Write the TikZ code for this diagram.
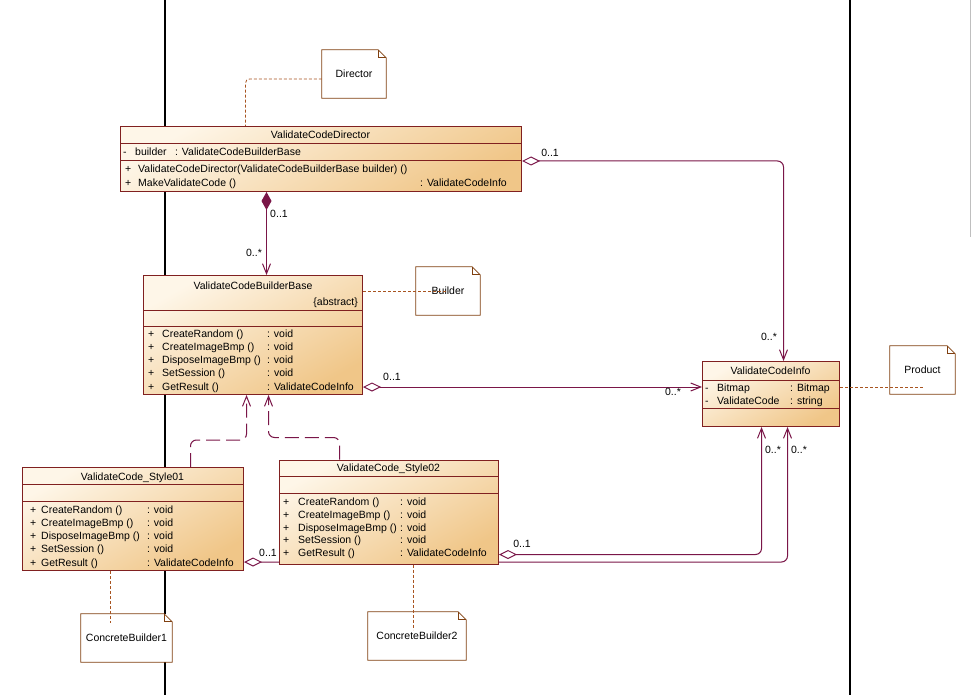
\documentclass[tikz,border=0pt]{standalone}
\usepackage{fontspec}
\setmainfont{Liberation Sans}
\usetikzlibrary{arrows.meta}
\pgfdeclarelayer{background}
\pgfsetlayers{background,main}

\definecolor{umlline}{RGB}{128,32,32}
\definecolor{umlconn}{RGB}{122,22,72}
\definecolor{umltop}{RGB}{254,246,232}
\definecolor{umlbot}{RGB}{240,198,136}
\definecolor{notedraw}{RGB}{128,64,16}
\definecolor{notelink}{RGB}{168,84,32}

\newcommand{\umlfont}{\fontsize{10.5}{12}\selectfont}
\newcommand{\dogear}[1]{%
  \draw[notedraw, line width=.8pt] (#1.north west) -- ([xshift=-8pt]#1.north east) -- ([yshift=-8pt]#1.north east) -- (#1.south east) -- (#1.south west) -- cycle;
  \draw[notedraw, line width=.8pt] ([xshift=-8pt]#1.north east) |- ([yshift=-8pt]#1.north east);}

\tikzset{
  classbox/.style={draw=umlline, line width=1pt, top color=umltop, bottom color=umlbot, shading angle=30, anchor=north west, inner sep=0pt},
  umlsep/.style={draw=umlline, line width=1pt},
  notebox/.style={fill=white, inner sep=0pt},
  txt/.style={anchor=base west, inner sep=0pt},
  ttl/.style={anchor=base, inner sep=0pt},
  lbl/.style={inner sep=0pt},
  comp/.style={draw=umlconn, line width=1pt, arrows={Diamond[length=18pt,width=10pt]-Straight Barb[length=10pt,width=8pt]}},
  agg/.style={draw=umlconn, line width=1pt, rounded corners=6pt, arrows={Diamond[fill=white,length=18pt,width=9pt]-Straight Barb[length=10pt,width=8pt]}},
  dep/.style={draw=umlconn, line width=1pt, rounded corners=6pt, dash pattern=on 14pt off 6pt, arrows={-Straight Barb[length=10pt,width=8pt]}},
  notelnk/.style={draw=notelink, line width=.8pt, dash pattern=on 3pt off 2pt}
}

\begin{document}
\begin{tikzpicture}[x=1pt, y=-1pt, font=\umlfont]

\useasboundingbox (0,0) rectangle (971,695);

% classes
\node[classbox, minimum width=401pt, minimum height=65pt] (dir) at (120,126) {};
\draw[umlsep] ([yshift=-18pt]dir.north west) -- ([yshift=-18pt]dir.north east);
\draw[umlsep] ([yshift=-35pt]dir.north west) -- ([yshift=-35pt]dir.north east);
\node[ttl] (dirT) at (320.5,139) {ValidateCodeDirector};
\node[txt] (dirA1) at (123,156) {\makebox[12pt][l]{-}\makebox[40pt][l]{builder}: ValidateCodeBuilderBase};
\node[txt] (dirO1) at (125,172) {\makebox[13pt][l]{+}ValidateCodeDirector(ValidateCodeBuilderBase builder) ()};
\node[txt] (dirO2) at (125,186) {\makebox[13pt][l]{+}\makebox[282pt][l]{MakeValidateCode ()}: ValidateCodeInfo};

\node[classbox, minimum width=219pt, minimum height=119pt] (bld) at (143,275) {};
\draw[umlsep] ([yshift=-35pt]bld.north west) -- ([yshift=-35pt]bld.north east);
\draw[umlsep] ([yshift=-51pt]bld.north west) -- ([yshift=-51pt]bld.north east);
\node[ttl] (bldT) at (253,289) {ValidateCodeBuilderBase};
\node[anchor=base east, inner sep=0pt] (bldS) at (358,305) {\{abstract\}};
\foreach \op/\ty [count=\i] in {CreateRandom ()/void, CreateImageBmp ()/void, DisposeImageBmp ()/void, SetSession ()/void, GetResult ()/ValidateCodeInfo}
  \node[txt] (bldO\i) at (148,{337+13.25*(\i-1)}) {\makebox[14pt][l]{+}\makebox[105pt][l]{\op}: \ty};

\node[classbox, minimum width=137pt, minimum height=65pt] (info) at (702,361) {};
\draw[umlsep] ([yshift=-19pt]info.north west) -- ([yshift=-19pt]info.north east);
\draw[umlsep] ([yshift=-47pt]info.north west) -- ([yshift=-47pt]info.north east);
\node[ttl] (infoT) at (770.5,374) {ValidateCodeInfo};
\node[txt] (infoA1) at (705,391) {\makebox[12pt][l]{-}\makebox[73pt][l]{Bitmap}: Bitmap};
\node[txt] (infoA2) at (705,404) {\makebox[12pt][l]{-}\makebox[73pt][l]{ValidateCode}: string};

\node[classbox, minimum width=221pt, minimum height=103pt] (st1) at (22,467) {};
\draw[umlsep] ([yshift=-17pt]st1.north west) -- ([yshift=-17pt]st1.north east);
\draw[umlsep] ([yshift=-34pt]st1.north west) -- ([yshift=-34pt]st1.north east);
\node[ttl] (st1T) at (132.5,480) {ValidateCode\_Style01};
\foreach \op/\ty [count=\i] in {CreateRandom ()/void, CreateImageBmp ()/void, DisposeImageBmp ()/void, SetSession ()/void, GetResult ()/ValidateCodeInfo}
  \node[txt] (st1O\i) at (30,{513+13.25*(\i-1)}) {\makebox[11pt][l]{+}\makebox[106pt][l]{\op}: \ty};

\node[lbl] (st1M) at (268,553) {0..1};

\node[classbox, minimum width=219pt, minimum height=104pt] (st2) at (279,459.5) {};
\draw[umlsep] ([yshift=-17pt]st2.north west) -- ([yshift=-17pt]st2.north east);
\draw[umlsep] ([yshift=-34pt]st2.north west) -- ([yshift=-34pt]st2.north east);
\node[ttl] (st2T) at (388.5,471.5) {ValidateCode\_Style02};
\foreach \op/\ty [count=\i] in {CreateRandom ()/void, CreateImageBmp ()/void, DisposeImageBmp ()/void, SetSession ()/void, GetResult ()/ValidateCodeInfo}
  \node[txt] (st2O\i) at (283,{505.5+12.75*(\i-1)}) {\makebox[15pt][l]{+}\makebox[102pt][l]{\op}: \ty};

% notes
\node[notebox, minimum width=64pt, minimum height=48pt] (dirNote) at (354,74) {Director};
\dogear{dirNote}
\node[notebox, minimum width=64pt, minimum height=48pt] (bldNote) at (448,291) {Builder};
\dogear{bldNote}
\node[notebox, minimum width=65pt, minimum height=48pt] (prodNote) at (922.5,370) {Product};
\dogear{prodNote}
\node[notebox, minimum width=91pt, minimum height=48pt] (cb1Note) at (126.5,638) {ConcreteBuilder1};
\dogear{cb1Note}
\node[notebox, minimum width=98pt, minimum height=48pt] (cb2Note) at (417,636) {ConcreteBuilder2};
\dogear{cb2Note}

% note links
\draw[notelnk, rounded corners=4pt] ([yshift=-5pt]dirNote.west) -| ([xshift=-75.5pt]dir.north);
\coordinate (bldN) at ([yshift=-16pt]bld.north east);
\draw[notelnk] (bldN) -- (bldN -| bldNote.center);
\coordinate (infoN) at ([yshift=-26pt]info.north east);
\draw[notelnk] (infoN) -- (infoN -| prodNote.center);
\coordinate (st1B) at ([xshift=-22.5pt]st1.south);
\draw[notelnk] (st1B) -- ++(0,52);
\coordinate (st2B) at ([xshift=24.5pt]st2.south);
\draw[notelnk] (st2B) -- ++(0,65);

% multiplicities
\node[lbl] (m1) at (279,214) {0..1};
\node[lbl] (m2) at (254,253) {0..*};
\node[lbl] (m3) at (550,153) {0..1};
\node[lbl] (m4) at (769,337) {0..*};
\node[lbl] (m5) at (392,377) {0..1};
\node[lbl] (m6) at (673,392) {0..*};
\node[lbl] (m7) at (522,544) {0..1};
\node[lbl] (m8) at (773,450) {0..*};
\node[lbl] (m9) at (799,450) {0..*};

\begin{pgfonlayer}{background}
\fill[white] (0,0) rectangle (971,695);
\draw[black, line width=1.2pt] (165,0) -- (165,695);
\draw[black, line width=1.2pt] (850,0) -- (850,695);
\draw[black!25, line width=1pt] (970,0) -- (970,237);

\coordinate (dirB) at ([xshift=-54.5pt]dir.south);
\draw[comp] (dirB) -- (dirB |- bld.north);
\coordinate (dirR) at ([yshift=-35pt]dir.north east);
\draw[agg] (dirR) -| ([xshift=12.5pt]info.north);
\coordinate (bldR) at ([yshift=8pt]bld.south east);
\draw[agg] (bldR) -- (bldR -| info.west);
\coordinate (st1R) at ([yshift=9pt]st1.south east);
\draw[agg] (st1R) -| ([xshift=16.5pt]info.south);
\coordinate (st2R) at ([yshift=10pt]st2.south east);
\draw[agg] (st2R) -| ([xshift=-9.5pt]info.south);

\draw[dep] ([xshift=57.5pt]st1.north) -- ++(0,-27) -| ([xshift=-6.5pt]bld.south);
\draw[dep] ([xshift=-49.5pt]st2.north) -- ++(0,-22) -| ([xshift=15.5pt]bld.south);
\end{pgfonlayer}

\end{tikzpicture}
\end{document}
